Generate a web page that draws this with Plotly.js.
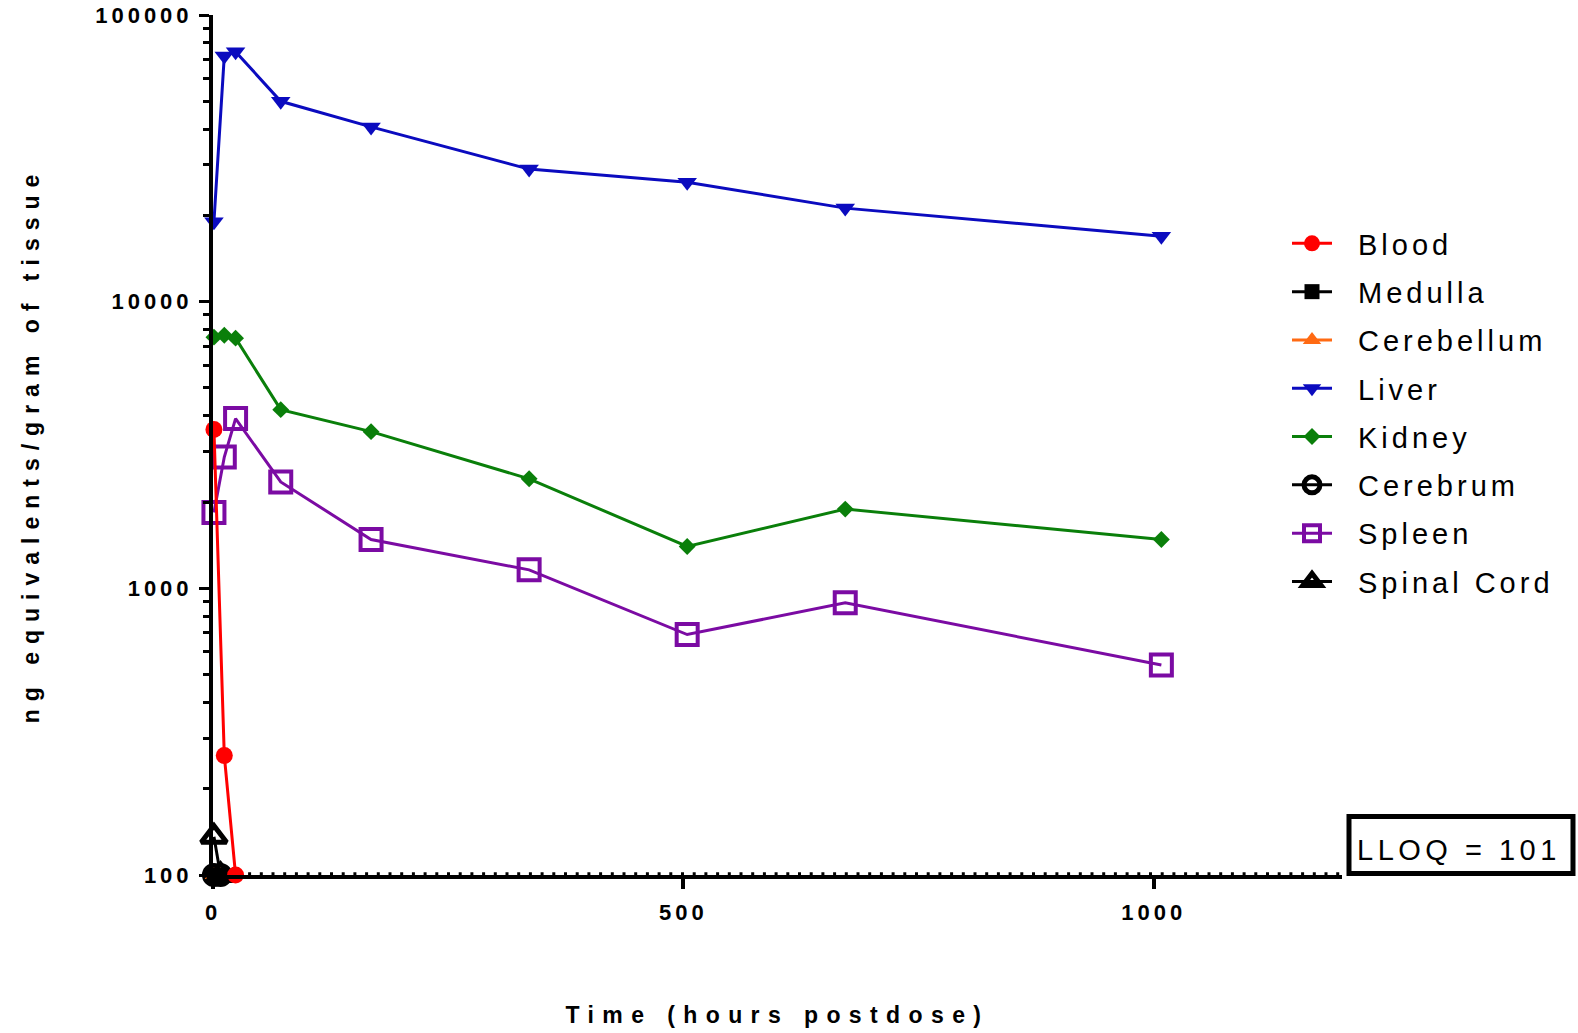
<!DOCTYPE html>
<html>
<head>
<meta charset="utf-8">
<script src="https://cdn.plot.ly/plotly-3.0.1.min.js"></script>
<style>
  html, body { margin: 0; padding: 0; background: #ffffff; }
  #chart { width: 1578px; height: 1033px; }
  .xtick text, .ytick text { letter-spacing: 4px; }
  .ytitle { letter-spacing: 8px; }
  .xtitle { letter-spacing: 8.4px; }
  .legend .scrollbox, .legend g { clip-path: none !important; }
  .legendtext { letter-spacing: 4px; transform: translateX(21px); }
  .annotation-text { letter-spacing: 4.5px; }
</style>
</head>
<body>
<div id="chart"></div>
<script>
// Sampling times (hours postdose)
const timesTissue = [1, 12, 24, 72, 168, 336, 504, 672, 1008];
const timesBlood = [1, 12, 24];
const timesCNS = [1, 8];

// Concentrations (ng equivalents / gram of tissue)
const blood = [3580, 261, 100];
const medulla = [100, 100];
const cerebellum = [100, 100];
const liver = [19000, 72000, 74500, 50000, 40700, 29000, 26100, 21200, 16900];
const kidney = [7520, 7640, 7460, 4200, 3520, 2410, 1400, 1890, 1480];
const cerebrum = [100, 100];
const spleen = [1840, 2870, 3910, 2350, 1480, 1160, 690, 890, 540];
const spinalCord = [136, 100];

// Lower limit of quantitation
const lloq = 101;
const lloqSpan = [0, 1200];

// Axis ticks
const xTickVals = [0, 500, 1000];
const xTickText = ['0', '500', '1000'];
const yTickVals = [100, 1000, 10000, 100000];
const yTickText = ['100', '1000', '10000', '100000'];

const FONT = 'Liberation Sans, Arial, sans-serif';

function series(name, x, y, color, symbol, size, rank, lineW) {
  return {
    type: 'scatter', mode: 'lines+markers', name: name, x: x, y: y,
    line: { color: color, width: 3 },
    marker: { color: color, symbol: symbol, size: size, line: { color: color, width: lineW || 0 } },
    cliponaxis: false, legendrank: rank, legendgroup: name
  };
}

// Drawn bottom-to-top; legend order set by legendrank
const traces = [
  {
    type: 'scatter', mode: 'lines', x: lloqSpan, y: [lloq, lloq],
    line: { color: '#000000', width: 3, dash: '3px,8.7px' },
    hoverinfo: 'skip', showlegend: false, cliponaxis: false
  },
  series('Spinal Cord', timesCNS, spinalCord, '#000000', 'triangle-up-open', 22, 8, 5),
  series('Spleen', timesTissue, spleen, '#7B0BA3', 'square-open', 21, 7, 4),
  series('Cerebrum', timesCNS, cerebrum, '#000000', 'circle-open', 18, 6, 6),
  series('Kidney', timesTissue, kidney, '#0A7F0A', 'diamond', 13, 5),
  series('Liver', timesTissue, liver, '#0B0BBF', 'triangle-down', 17, 4),
  series('Cerebellum', timesCNS, cerebellum, '#FF6A13', 'triangle-up', 16, 3),
  series('Medulla', timesCNS, medulla, '#000000', 'square', 15, 2),
  series('Blood', timesBlood, blood, '#FF0000', 'circle', 17, 1)
];

const layout = {
  width: 1578, height: 1033,
  margin: { l: 213, r: 236, t: 15, b: 158, autoexpand: false },
  paper_bgcolor: '#ffffff', plot_bgcolor: '#ffffff',
  font: { family: FONT, color: '#000000' },
  showlegend: true,
  legend: {
    xref: 'container', yref: 'container',
    x: 1287 / 1578, y: 1 - 218 / 1033, xanchor: 'left', yanchor: 'top',
    font: { family: FONT, size: 29, color: '#000000' },
    itemwidth: 40, tracegroupgap: 7.6, bgcolor: 'rgba(0,0,0,0)'
  },
  xaxis: {
    type: 'linear', range: [0, 1200], automargin: false,
    tickmode: 'array', tickvals: xTickVals, ticktext: xTickText,
    ticks: 'outside', ticklen: 10, tickwidth: 4, tickcolor: '#000000',
    ticklabelstandoff: 5,
    tickfont: { family: FONT, size: 22, weight: 'bold', color: '#000000' },
    showline: true, linewidth: 4, linecolor: '#000000',
    showgrid: false, zeroline: false,
    title: { text: 'Time (hours postdose)', standoff: 83,
      font: { family: FONT, size: 23, weight: 'bold', color: '#000000' } }
  },
  yaxis: {
    type: 'log', range: [2, 5], automargin: false,
    tickmode: 'array', tickvals: yTickVals, ticktext: yTickText,
    ticks: 'outside', ticklen: 10, tickwidth: 3, tickcolor: '#000000',
    ticklabelstandoff: 2,
    tickfont: { family: FONT, size: 22, weight: 'bold', color: '#000000' },
    minor: { ticks: 'outside', ticklen: 6, tickwidth: 3, tickcolor: '#000000', dtick: 'D1', showgrid: false },
    showline: true, linewidth: 4, linecolor: '#000000',
    showgrid: false, zeroline: false,
    title: { text: 'ng equivalents/gram of tissue', standoff: 50,
      font: { family: FONT, size: 23, weight: 'bold', color: '#000000' } }
  },
  shapes: [
    { type: 'rect', xref: 'paper', yref: 'paper',
      x0: 1.0062, x1: 1.2046, y0: 0.0017, y1: 0.068,
      line: { color: '#000000', width: 5 }, fillcolor: '#ffffff' }
  ],
  annotations: [
    { xref: 'paper', yref: 'paper', x: 1.1036, y: 0.0285,
      xanchor: 'center', yanchor: 'middle', showarrow: false,
      text: 'LLOQ = ' + lloq,
      font: { family: FONT, size: 29, color: '#000000' } }
  ]
};

Plotly.newPlot('chart', traces, layout, { displayModeBar: false, staticPlot: true });
</script>
</body>
</html>
